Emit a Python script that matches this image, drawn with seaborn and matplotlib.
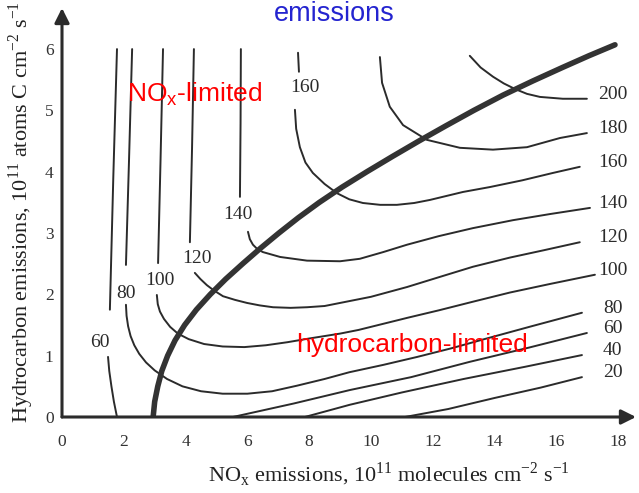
import numpy as np
import pandas as pd
import matplotlib
matplotlib.use("Agg")
import matplotlib.pyplot as plt
import seaborn as sns

# ozone isopleths (ppb)
# x = NOx emissions, y = hydrocarbon emissions (both 1e11 units)

iso60_top_x = [1.78, 1.66, 1.55]
iso60_top_y = [6.0, 3.9, 1.75]
iso60_low_x = [1.49, 1.53, 1.60, 1.68, 1.78]
iso60_low_y = [0.98, 0.75, 0.50, 0.25, 0.0]

iso80_top_x = [2.27, 2.17, 2.07]
iso80_top_y = [6.0, 4.2, 2.48]
iso80_low_x = [2.07, 2.09, 2.14, 2.22, 2.34, 2.50, 2.72, 3.0, 3.4, 3.9, 4.5, 5.2, 6.0,
               6.8, 7.6, 8.5, 9.3, 10.4, 11.5, 12.6, 13.6, 15.2, 16.83]
iso80_low_y = [1.83, 1.65, 1.48, 1.32, 1.17, 1.03, 0.89, 0.76, 0.62, 0.50, 0.42, 0.38, 0.38,
               0.42, 0.51, 0.62, 0.73, 0.85, 0.98, 1.12, 1.26, 1.48, 1.70]

iso100_top_x = [3.27, 3.19, 3.11]
iso100_top_y = [6.0, 4.2, 2.51]
iso100_low_x = [3.07, 3.10, 3.17, 3.30, 3.50, 3.75, 4.1, 4.6, 5.2, 5.9, 6.6, 7.3,
                8.0, 9.0, 9.6, 10.4, 11.2, 12.2, 13.3, 14.5, 15.8, 17.25]
iso100_low_y = [1.99, 1.84, 1.72, 1.60, 1.47, 1.36, 1.27, 1.19, 1.15, 1.14, 1.17, 1.22,
                1.28, 1.36, 1.42, 1.52, 1.62, 1.74, 1.88, 2.03, 2.17, 2.32]

iso120_top_x = [4.27, 4.21, 4.14]
iso120_top_y = [6.0, 4.4, 2.85]
iso120_low_x = [4.30, 4.48, 4.69, 4.9, 5.21, 5.6, 5.99, 6.4, 6.83, 7.4, 7.93, 8.5,
                9.0, 10.0, 11.17, 12.2, 13.3, 14.5, 15.6, 16.76]
iso120_low_y = [2.35, 2.25, 2.15, 2.07, 1.97, 1.91, 1.86, 1.82, 1.79, 1.78, 1.79, 1.81,
                1.86, 1.96, 2.12, 2.28, 2.45, 2.60, 2.72, 2.85]

iso140_top_x = [5.79, 5.78, 5.76]
iso140_top_y = [6.0, 4.8, 3.59]
iso140_low_x = [6.02, 6.08, 6.18, 6.32, 6.50, 7.06, 7.93, 9.0, 9.64, 10.4, 11.17,
                12.2, 13.3, 14.6, 15.8, 17.09]
iso140_low_y = [3.02, 2.90, 2.81, 2.74, 2.69, 2.61, 2.55, 2.54, 2.58, 2.69, 2.81,
                2.95, 3.08, 3.21, 3.31, 3.41]

iso160_top_x = [7.64, 7.67]
iso160_top_y = [5.94, 5.63]
iso160_low_x = [7.54, 7.58, 7.70, 7.88, 8.12, 8.50, 8.90, 9.3, 9.74, 10.3, 10.84,
                11.4, 11.91, 12.98, 13.85, 14.9, 15.89, 16.76]
iso160_low_y = [5.01, 4.70, 4.40, 4.15, 3.98, 3.80, 3.65, 3.55, 3.49, 3.46, 3.46,
                3.49, 3.54, 3.67, 3.75, 3.86, 3.98, 4.08]

iso180_x = [10.29, 10.36, 10.61, 11.04, 11.81, 12.88, 13.95, 15.05, 16.12, 16.99]
iso180_y = [5.87, 5.45, 5.06, 4.76, 4.52, 4.39, 4.36, 4.40, 4.55, 4.63]

iso200_x = [13.20, 13.55, 13.95, 14.3, 14.66, 15.05, 15.47, 16.21, 16.99]
iso200_y = [5.89, 5.70, 5.55, 5.44, 5.35, 5.27, 5.22, 5.19, 5.19]

iso60_right_x = [5.53, 7.5, 9.32, 11.3, 13.2, 15.1, 16.99]
iso60_right_y = [0.0, 0.22, 0.44, 0.65, 0.90, 1.13, 1.37]

iso40_x = [7.86, 9.32, 11.0, 13.0, 15.0, 16.83]
iso40_y = [0.0, 0.20, 0.40, 0.62, 0.82, 1.01]

iso20_x = [11.10, 12.5, 14.0, 15.5, 16.83]
iso20_y = [0.0, 0.13, 0.31, 0.48, 0.65]

# ridge line separating NOx-limited and hydrocarbon-limited regimes
ridge_x = [2.95, 3.0, 3.1, 3.23, 3.42, 3.66, 3.97, 4.35, 4.8, 5.3, 5.85, 6.42,
           7.02, 7.65, 8.33, 9.07, 9.87, 10.7, 11.55, 12.43, 13.33, 14.28, 15.24,
           16.2, 17.05, 17.9]
ridge_y = [0.0, 0.25, 0.5, 0.75, 1.0, 1.25, 1.5, 1.75, 2.0, 2.25, 2.5, 2.75,
           3.0, 3.25, 3.5, 3.75, 4.0, 4.25, 4.5, 4.75, 5.0, 5.25, 5.48,
           5.7, 5.89, 6.07]

# inline labels on the left (gap in the isopleth)
inline_levels = [60, 80, 100, 120, 140, 160]
inline_x = [1.23, 2.07, 3.17, 4.37, 5.70, 7.86]
inline_y = [1.21, 2.02, 2.22, 2.58, 3.30, 5.37]

segments = [
    ("60t", None, iso60_top_x, iso60_top_y),
    ("60l", None, iso60_low_x, iso60_low_y),
    ("80t", None, iso80_top_x, iso80_top_y),
    ("80l", 80, iso80_low_x, iso80_low_y),
    ("100t", None, iso100_top_x, iso100_top_y),
    ("100l", 100, iso100_low_x, iso100_low_y),
    ("120t", None, iso120_top_x, iso120_top_y),
    ("120l", 120, iso120_low_x, iso120_low_y),
    ("140t", None, iso140_top_x, iso140_top_y),
    ("140l", 140, iso140_low_x, iso140_low_y),
    ("160t", None, iso160_top_x, iso160_top_y),
    ("160l", 160, iso160_low_x, iso160_low_y),
    ("180", 180, iso180_x, iso180_y),
    ("200", 200, iso200_x, iso200_y),
    ("60r", 60, iso60_right_x, iso60_right_y),
    ("40", 40, iso40_x, iso40_y),
    ("20", 20, iso20_x, iso20_y),
]

rows = []
for name, lev, xs, ys in segments:
    for i, (xv, yv) in enumerate(zip(xs, ys)):
        rows.append({"seg": name, "order": i, "x": xv, "y": yv})
df = pd.DataFrame(rows)

ridge = pd.DataFrame({"x": ridge_x, "y": ridge_y})

sns.set_style("white")
plt.rcParams["font.family"] = ["Liberation Serif", "DejaVu Serif"]

ink = "#2b2b2b"

fig = plt.figure(figsize=(6.39, 4.93), dpi=100)
ax = fig.add_axes([62 / 639, 76 / 493, 574 / 639, 409 / 493])

sns.lineplot(
    data=df, x="x", y="y", units="seg", estimator=None, sort=False,
    color=ink, lw=1.4, ax=ax, legend=False
)
sns.lineplot(
    data=ridge, x="x", y="y", estimator=None, sort=False,
    color="#333333", lw=4.0, ax=ax, legend=False
)

ax.set_xlim(0, 18.58)
ax.set_ylim(0, 6.67)

# contour labels
for lev, xv, yv in zip(inline_levels, inline_x, inline_y):
    ax.text(xv, yv, str(lev), fontsize=14, ha="center", va="center", color=ink)

for name, lev, xs, ys in segments:
    if lev is None:
        continue
    ax.text(17.83, ys[-1] + 0.07, str(lev), fontsize=14, ha="center",
            va="center", color=ink)

# regime labels
ax.text(2.10, 5.15, r"NO$_\mathregular{x}$-limited", color="red", fontsize=19,
        family=["Liberation Sans", "DejaVu Sans"], va="baseline")
ax.text(7.57, 1.06, "hydrocarbon-limited", color="red", fontsize=19,
        family=["Liberation Sans", "DejaVu Sans"], va="baseline")

fig.text(334 / 639, 1 - 21 / 493, "emissions", color="#2424d0", fontsize=19.5,
         family=["Liberation Sans", "DejaVu Sans"], ha="center", va="baseline")

# axes with arrow heads
for s in ax.spines.values():
    s.set_visible(False)
ax.annotate("", xy=(1, 0), xytext=(0, 0), xycoords="axes fraction",
            arrowprops=dict(arrowstyle="-|>", color=ink, lw=2.2,
                            mutation_scale=22, shrinkA=0, shrinkB=0))
ax.annotate("", xy=(0, 1), xytext=(0, 0), xycoords="axes fraction",
            arrowprops=dict(arrowstyle="-|>", color=ink, lw=2.2,
                            mutation_scale=22, shrinkA=0, shrinkB=0))

ax.set_xticks(np.arange(0, 19, 2))
ax.set_yticks(np.arange(0, 7, 1))
ax.tick_params(axis="x", direction="in", length=10, width=1.6, color=ink,
               labelsize=12.5, pad=12, labelcolor="#333333")
ax.tick_params(axis="y", direction="in", length=10, width=1.6, color=ink,
               labelsize=12.5, pad=6, labelcolor="#333333")

ax.set_xlabel(r"NO$_\mathregular{x}$ emissions, 10$^\mathregular{11}$ molecules cm$^\mathregular{-2}$ s$^\mathregular{-1}$",
              fontsize=16, color="#222222")
ax.xaxis.set_label_coords(0.57, -0.105)
ax.set_ylabel(r"Hydrocarbon emissions, 10$^\mathregular{11}$ atoms C cm$^\mathregular{-2}$ s$^\mathregular{-1}$",
              fontsize=16, color="#222222")
ax.yaxis.set_label_coords(-0.045, 0.50)

fig.savefig("out.png", dpi=100)
